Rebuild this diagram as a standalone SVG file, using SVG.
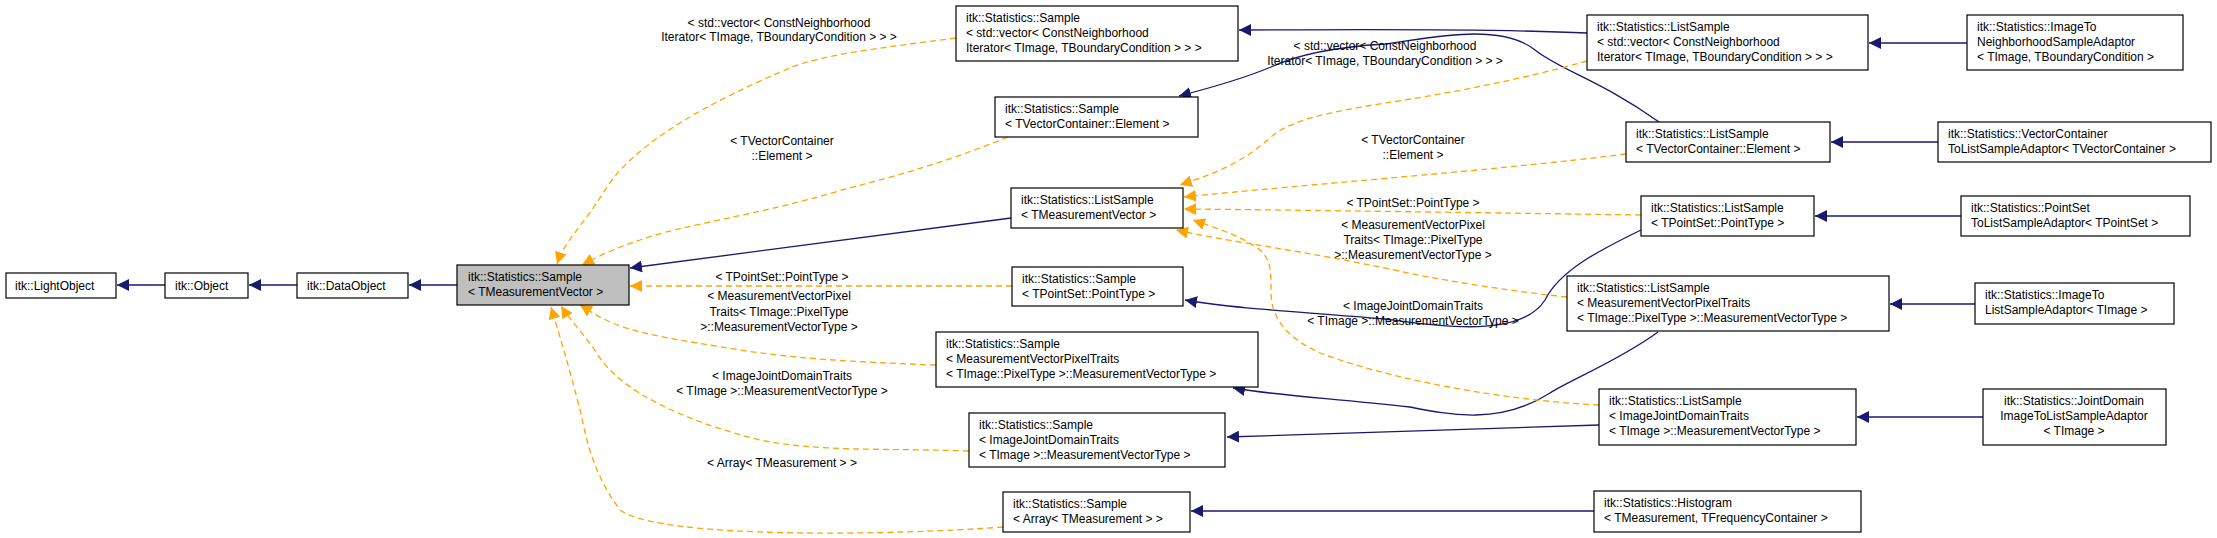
<svg xmlns="http://www.w3.org/2000/svg" width="2217" height="538" viewBox="0 0 2217 538">
<style>
text{font-family:"Liberation Sans",Arial,sans-serif;font-size:12px;fill:#000}
.n{fill:#fff;stroke:#000;stroke-width:1.2}
.g{fill:#bfbfbf}
.b{fill:none;stroke:#191970;stroke-width:1.3}
.o{fill:none;stroke:#ffa500;stroke-width:1.3;stroke-dasharray:6,4}
.c{text-anchor:middle}
</style>
<defs>
<marker id="ab" viewBox="0 0 10 10" refX="10" refY="5" markerWidth="12" markerHeight="12" markerUnits="userSpaceOnUse" orient="auto"><path d="M0,0L10,5L0,10z" fill="#191970"/></marker>
<marker id="ao" viewBox="0 0 10 10" refX="10" refY="5" markerWidth="12" markerHeight="12" markerUnits="userSpaceOnUse" orient="auto"><path d="M0,0L10,5L0,10z" fill="#ffa500"/></marker>
</defs>
<rect width="2217" height="538" fill="#fff"/>
<g id="edges">
<path class="b" marker-end="url(#ab)" d="M165,285H117"/>
<path class="b" marker-end="url(#ab)" d="M297,285H249"/>
<path class="b" marker-end="url(#ab)" d="M457,285H409"/>
<path class="b" marker-end="url(#ab)" d="M1011,218L630,268"/>
<path class="b" marker-end="url(#ab)" d="M1587,33C1480,28 1330,30 1239,30"/>
<path class="b" marker-end="url(#ab)" d="M1967,43H1869"/>
<path class="b" marker-end="url(#ab)" d="M1659,122C1600,80 1560,70 1535,50C1500,22 1430,38 1385,44C1320,48 1290,58 1271,67C1240,80 1210,88 1179,96"/>
<path class="b" marker-end="url(#ab)" d="M1938,142H1831"/>
<path class="b" marker-end="url(#ab)" d="M1641,230C1600,250 1560,270 1545,300C1520,340 1430,325 1385,319C1300,312 1230,308 1185,300"/>
<path class="b" marker-end="url(#ab)" d="M1961,216H1815"/>
<path class="b" marker-end="url(#ab)" d="M1658,332C1620,360 1570,380 1550,393C1500,425 1450,415 1410,407C1330,398 1280,396 1233,388"/>
<path class="b" marker-end="url(#ab)" d="M1975,304H1890"/>
<path class="b" marker-end="url(#ab)" d="M1599,425L1227,437"/>
<path class="b" marker-end="url(#ab)" d="M1983,417H1857"/>
<path class="b" marker-end="url(#ab)" d="M1594,511H1191"/>
<path class="o" marker-end="url(#ao)" d="M956,38C880,48 820,55 790,68C690,110 630,150 605,190C580,230 565,240 557,264"/>
<path class="o" marker-end="url(#ao)" d="M1008,137C940,165 880,180 842,190C760,215 680,225 640,240C610,250 595,258 582,265"/>
<path class="o" marker-end="url(#ao)" d="M1012,286H630"/>
<path class="o" marker-end="url(#ao)" d="M936,365C850,362 790,358 740,350C680,340 640,335 610,322C595,315 588,310 580,305"/>
<path class="o" marker-end="url(#ao)" d="M969,451C880,448 820,452 760,440C680,420 620,390 598,355C585,335 570,320 561,306"/>
<path class="o" marker-end="url(#ao)" d="M1003,527C900,535 660,540 620,510C590,470 585,430 580,410C570,370 558,330 551,307"/>
<path class="o" marker-end="url(#ao)" d="M1587,61C1520,80 1440,95 1385,103C1330,112 1290,120 1271,137C1240,165 1210,175 1180,185"/>
<path class="o" marker-end="url(#ao)" d="M1626,154C1500,170 1300,185 1184,197"/>
<path class="o" marker-end="url(#ao)" d="M1641,215C1500,213 1300,210 1184,209"/>
<path class="o" marker-end="url(#ao)" d="M1567,297C1500,290 1430,278 1399,271C1300,250 1230,242 1176,230"/>
<path class="o" marker-end="url(#ao)" d="M1599,405C1500,400 1400,380 1340,360C1290,345 1271,320 1271,292C1271,270 1271,260 1260,250C1240,235 1215,228 1193,220"/>
</g>
<g id="labels">
<text class="c" x="779" y="27">&lt; std::vector&lt; ConstNeighborhood</text>
<text class="c" x="779" y="41">Iterator&lt; TImage, TBoundaryCondition &gt; &gt; &gt;</text>
<text class="c" x="782" y="145">&lt; TVectorContainer</text>
<text class="c" x="782" y="160">::Element &gt;</text>
<text class="c" x="782" y="281">&lt; TPointSet::PointType &gt;</text>
<text class="c" x="779" y="300">&lt; MeasurementVectorPixel</text>
<text class="c" x="779" y="316">Traits&lt; TImage::PixelType</text>
<text class="c" x="779" y="331">&gt;::MeasurementVectorType &gt;</text>
<text class="c" x="782" y="380">&lt; ImageJointDomainTraits</text>
<text class="c" x="782" y="395">&lt; TImage &gt;::MeasurementVectorType &gt;</text>
<text class="c" x="782" y="467">&lt; Array&lt; TMeasurement &gt; &gt;</text>
<text class="c" x="1385" y="50">&lt; std::vector&lt; ConstNeighborhood</text>
<text class="c" x="1385" y="65">Iterator&lt; TImage, TBoundaryCondition &gt; &gt; &gt;</text>
<text class="c" x="1413" y="144">&lt; TVectorContainer</text>
<text class="c" x="1413" y="159">::Element &gt;</text>
<text class="c" x="1413" y="207">&lt; TPointSet::PointType &gt;</text>
<text class="c" x="1413" y="229">&lt; MeasurementVectorPixel</text>
<text class="c" x="1413" y="244">Traits&lt; TImage::PixelType</text>
<text class="c" x="1413" y="259">&gt;::MeasurementVectorType &gt;</text>
<text class="c" x="1413" y="310">&lt; ImageJointDomainTraits</text>
<text class="c" x="1413" y="325">&lt; TImage &gt;::MeasurementVectorType &gt;</text>
</g>
<g id="n_lightobject"><rect class="n" x="6" y="273" width="110" height="25"/><text x="15" y="290">itk::LightObject</text></g>
<g id="n_object"><rect class="n" x="165" y="273" width="83" height="25"/><text x="175" y="290">itk::Object</text></g>
<g id="n_dataobject"><rect class="n" x="297" y="273" width="111" height="25"/><text x="307" y="290">itk::DataObject</text></g>
<g id="n_sample"><rect class="n g" x="457" y="265" width="172" height="40"/><text x="468" y="281">itk::Statistics::Sample</text><text x="468" y="296">&lt; TMeasurementVector &gt;</text></g>
<g id="n_s_vec"><rect class="n" x="956" y="6" width="282" height="55"/><text x="966" y="22">itk::Statistics::Sample</text><text x="966" y="37">&lt; std::vector&lt; ConstNeighborhood</text><text x="966" y="52">Iterator&lt; TImage, TBoundaryCondition &gt; &gt; &gt;</text></g>
<g id="n_s_vc"><rect class="n" x="995" y="97" width="203" height="40"/><text x="1005" y="113">itk::Statistics::Sample</text><text x="1005" y="128">&lt; TVectorContainer::Element &gt;</text></g>
<g id="n_ls_mv"><rect class="n" x="1011" y="188" width="172" height="40"/><text x="1021" y="204">itk::Statistics::ListSample</text><text x="1021" y="219">&lt; TMeasurementVector &gt;</text></g>
<g id="n_s_ps"><rect class="n" x="1012" y="267" width="171" height="39"/><text x="1022" y="283">itk::Statistics::Sample</text><text x="1022" y="298">&lt; TPointSet::PointType &gt;</text></g>
<g id="n_s_mvpt"><rect class="n" x="936" y="332" width="322" height="55"/><text x="946" y="348">itk::Statistics::Sample</text><text x="946" y="363">&lt; MeasurementVectorPixelTraits</text><text x="946" y="378">&lt; TImage::PixelType &gt;::MeasurementVectorType &gt;</text></g>
<g id="n_s_ijdt"><rect class="n" x="969" y="413" width="256" height="54"/><text x="979" y="429">itk::Statistics::Sample</text><text x="979" y="444">&lt; ImageJointDomainTraits</text><text x="979" y="459">&lt; TImage &gt;::MeasurementVectorType &gt;</text></g>
<g id="n_s_arr"><rect class="n" x="1003" y="492" width="187" height="40"/><text x="1013" y="508">itk::Statistics::Sample</text><text x="1013" y="523">&lt; Array&lt; TMeasurement &gt; &gt;</text></g>
<g id="n_ls_vec"><rect class="n" x="1587" y="15" width="281" height="55"/><text x="1597" y="31">itk::Statistics::ListSample</text><text x="1597" y="46">&lt; std::vector&lt; ConstNeighborhood</text><text x="1597" y="61">Iterator&lt; TImage, TBoundaryCondition &gt; &gt; &gt;</text></g>
<g id="n_nbr_adaptor"><rect class="n" x="1967" y="15" width="216" height="55"/><text x="1977" y="31">itk::Statistics::ImageTo</text><text x="1977" y="46">NeighborhoodSampleAdaptor</text><text x="1977" y="61">&lt; TImage, TBoundaryCondition &gt;</text></g>
<g id="n_ls_vc"><rect class="n" x="1626" y="122" width="204" height="40"/><text x="1636" y="138">itk::Statistics::ListSample</text><text x="1636" y="153">&lt; TVectorContainer::Element &gt;</text></g>
<g id="n_vc_adaptor"><rect class="n" x="1938" y="122" width="273" height="40"/><text x="1948" y="138">itk::Statistics::VectorContainer</text><text x="1948" y="153">ToListSampleAdaptor&lt; TVectorContainer &gt;</text></g>
<g id="n_ls_ps"><rect class="n" x="1641" y="196" width="173" height="40"/><text x="1651" y="212">itk::Statistics::ListSample</text><text x="1651" y="227">&lt; TPointSet::PointType &gt;</text></g>
<g id="n_ps_adaptor"><rect class="n" x="1961" y="196" width="229" height="40"/><text x="1971" y="212">itk::Statistics::PointSet</text><text x="1971" y="227">ToListSampleAdaptor&lt; TPointSet &gt;</text></g>
<g id="n_ls_mvpt"><rect class="n" x="1567" y="276" width="322" height="55"/><text x="1577" y="292">itk::Statistics::ListSample</text><text x="1577" y="307">&lt; MeasurementVectorPixelTraits</text><text x="1577" y="322">&lt; TImage::PixelType &gt;::MeasurementVectorType &gt;</text></g>
<g id="n_img_adaptor"><rect class="n" x="1975" y="283" width="199" height="41"/><text x="1985" y="299">itk::Statistics::ImageTo</text><text x="1985" y="314">ListSampleAdaptor&lt; TImage &gt;</text></g>
<g id="n_ls_ijdt"><rect class="n" x="1599" y="389" width="257" height="56"/><text x="1609" y="405">itk::Statistics::ListSample</text><text x="1609" y="420">&lt; ImageJointDomainTraits</text><text x="1609" y="435">&lt; TImage &gt;::MeasurementVectorType &gt;</text></g>
<g id="n_jd_adaptor"><rect class="n" x="1983" y="389" width="183" height="56"/><text class="c" x="2074" y="405">itk::Statistics::JointDomain</text><text class="c" x="2074" y="420">ImageToListSampleAdaptor</text><text class="c" x="2074" y="435">&lt; TImage &gt;</text></g>
<g id="n_hist"><rect class="n" x="1594" y="491" width="267" height="41"/><text x="1604" y="507">itk::Statistics::Histogram</text><text x="1604" y="522">&lt; TMeasurement, TFrequencyContainer &gt;</text></g>
</svg>
